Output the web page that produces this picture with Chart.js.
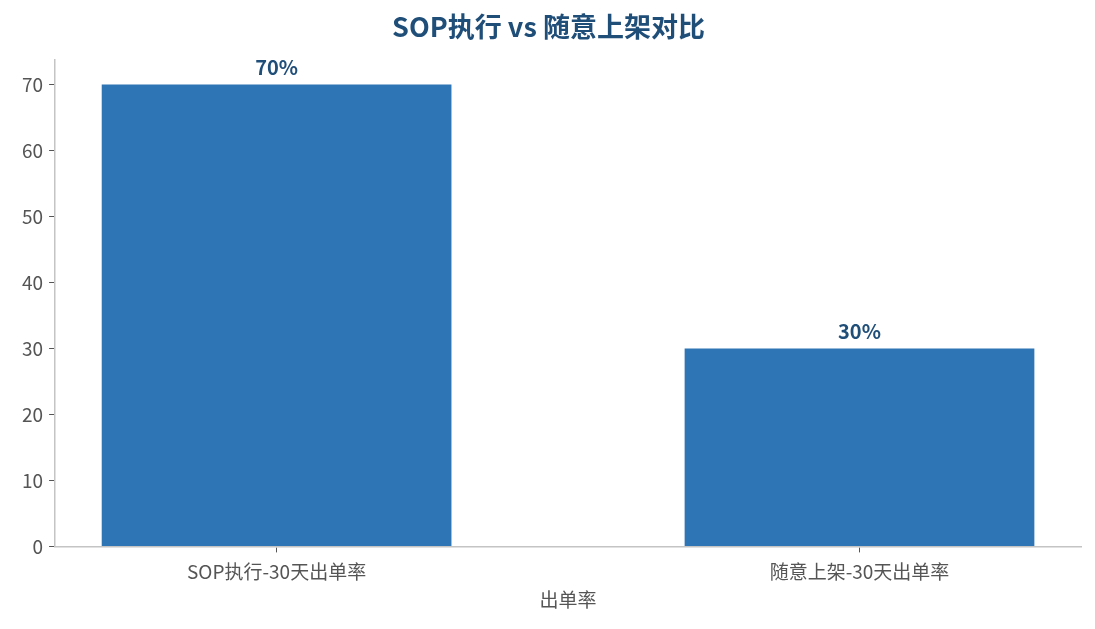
<!DOCTYPE html>
<html>
<head>
<meta charset="utf-8">
<script src="https://cdn.jsdelivr.net/npm/chart.js@4.4.1/dist/chart.umd.min.js"></script>
<style>
  html, body { margin: 0; padding: 0; background: #fff; }
  #wrap { width: 1095px; height: 629px; }
</style>
</head>
<body>
<div id="wrap"><canvas id="chart"></canvas></div>
<script>
// data
var categories = ["SOP执行-30天出单率", "随意上架-30天出单率"];
var rates = [70, 30];
var yTicks = [0, 10, 20, 30, 40, 50, 60, 70];

var FONT = "'Noto Sans CJK SC', 'Noto Sans', sans-serif";
var DARK = "#1f4e79";

// labels on top of bars
var barLabels = {
    id: "barLabels",
    afterDatasetsDraw: function(chart) {
        var ctx = chart.ctx;
        var meta = chart.getDatasetMeta(0);
        ctx.save();
        ctx.font = "bold 20px " + FONT;
        ctx.fillStyle = DARK;
        ctx.textAlign = "center";
        ctx.textBaseline = "middle";
        meta.data.forEach(function(bar, i) {
            ctx.fillText(rates[i] + "%", bar.x, bar.y - 17);
        });
        ctx.restore();
    }
};

var config = {
    type: "bar",
    data: {
        datasets: [{
            data: rates.map(function(v, i) { return { x: i, y: v }; }),
            backgroundColor: "#2e75b6",
            categoryPercentage: 1,
            barPercentage: 0.6
        }]
    },
    options: {
        responsive: true,
        maintainAspectRatio: false,
        animation: false,
        layout: { padding: { left: 16, right: 14, top: 2, bottom: 14 } },
        plugins: {
            legend: { display: false },
            tooltip: { enabled: false },
            title: {
                display: true,
                text: "SOP执行 vs 随意上架对比",
                color: DARK,
                font: { family: FONT, size: 27, weight: "bold" },
                padding: { top: 9, bottom: 16 }
            }
        },
        scales: {
            x: {
                type: "linear",
                offset: false,
                min: -0.38,
                max: 1.38,
                afterBuildTicks: function(axis) {
                    axis.ticks = categories.map(function(c, i) { return { value: i }; });
                },
                ticks: {
                    color: "#555",
                    font: { family: FONT, size: 19 },
                    padding: 8,
                    callback: function(v) { return categories[v]; }
                },
                grid: { display: true, offset: false, drawOnChartArea: false, drawTicks: true, tickLength: 6, color: "#555" },
                border: { color: "#c4c4c4", width: 1.5 },
                title: {
                    display: true,
                    text: "出单率",
                    color: "#555",
                    font: { family: FONT, size: 19 },
                    padding: { top: -3 }
                }
            },
            y: {
                min: 0,
                max: 73.8,
                afterBuildTicks: function(axis) {
                    axis.ticks = yTicks.map(function(v) { return { value: v }; });
                },
                ticks: {
                    color: "#555",
                    font: { family: FONT, size: 19 },
                    padding: 6
                },
                grid: { display: true, drawOnChartArea: false, drawTicks: true, tickLength: 6, color: "#555" },
                border: { color: "#c4c4c4", width: 1.5 }
            }
        }
    },
    plugins: [barLabels]
};

window.onload = function() {
    window.myBar = new Chart(document.getElementById("chart").getContext("2d"), config);
};
</script>
</body>
</html>
